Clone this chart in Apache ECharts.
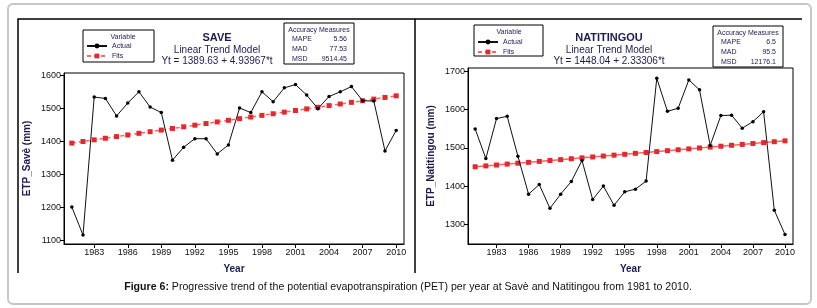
<!DOCTYPE html>
<html>
<head>
<meta charset="utf-8">
<script src="https://cdn.jsdelivr.net/npm/echarts@6/dist/echarts.min.js"></script>
<style>
  html, body { margin: 0; padding: 0; background: #fff; }
  #chart { width: 817px; height: 308px; }
</style>
</head>
<body>
<div id="chart"></div>
<script>
const years = [1981, 1982, 1983, 1984, 1985, 1986, 1987, 1988, 1989, 1990,
  1991, 1992, 1993, 1994, 1995, 1996, 1997, 1998, 1999, 2000,
  2001, 2002, 2003, 2004, 2005, 2006, 2007, 2008, 2009, 2010]
const yearTicks = [1983, 1986, 1989, 1992, 1995, 1998, 2001, 2004, 2007, 2010]

const saveActual = [1201, 1116, 1534, 1530, 1477, 1516, 1550, 1504, 1487, 1343,
  1382, 1408, 1408, 1362, 1389, 1501, 1487, 1550, 1520, 1562,
  1572, 1540, 1499, 1536, 1550, 1566, 1523, 1522, 1371, 1433]
const saveFits = [1394.6, 1399.5, 1404.5, 1409.4, 1414.3, 1419.3, 1424.2, 1429.2, 1434.1, 1439.0,
  1444.0, 1448.9, 1453.9, 1458.8, 1463.7, 1468.7, 1473.6, 1478.6, 1483.5, 1488.4,
  1493.4, 1498.3, 1503.2, 1508.2, 1513.1, 1518.1, 1523.0, 1527.9, 1532.9, 1537.8]
const saveTicks = [1100, 1200, 1300, 1400, 1500, 1600]

const natiActual = [1549, 1472, 1576, 1582, 1478, 1379, 1404, 1342, 1379, 1412,
  1467, 1365, 1400, 1350, 1385, 1392, 1413, 1681, 1595, 1603,
  1677, 1651, 1506, 1584, 1585, 1551, 1568, 1594, 1337, 1274]
const natiFits = [1450.4, 1452.7, 1455.0, 1457.4, 1459.7, 1462.0, 1464.4, 1466.7, 1469.0, 1471.4,
  1473.7, 1476.0, 1478.4, 1480.7, 1483.0, 1485.4, 1487.7, 1490.0, 1492.4, 1494.7,
  1497.0, 1499.4, 1501.7, 1504.0, 1506.4, 1508.7, 1511.0, 1513.4, 1515.7, 1518.0]
const natiTicks = [1300, 1400, 1500, 1600, 1700]

const font = "'Liberation Sans', Arial, sans-serif"
const navy = "#1b1b52"
const red = "#e8262b"

const pairs = (vals) => years.map((y, i) => [y, vals[i]])
const plain = (v) => String(v)

const chart = echarts.init(document.getElementById("chart"), null, { renderer: "canvas" })

const xAxisBase = (gridIndex, min, max) => ({
  type: "value",
  gridIndex,
  min,
  max,
  name: "Year",
  nameLocation: "middle",
  nameGap: 20,
  nameTextStyle: { fontFamily: font, fontSize: 10, fontWeight: "bold", color: navy },
  axisLine: { show: true, onZero: false, lineStyle: { color: "#000", width: 1 } },
  axisTick: { show: true, length: 4, customValues: yearTicks, lineStyle: { color: "#000" } },
  axisLabel: { customValues: yearTicks, formatter: plain, fontFamily: font, fontSize: 9, color: "#111", margin: 4 },
  splitLine: { show: false },
})

const yAxisBase = (gridIndex, min, max, ticks, name) => ({
  type: "value",
  gridIndex,
  min,
  max,
  name,
  nameLocation: "middle",
  nameGap: 32,
  nameTextStyle: { fontFamily: font, fontSize: 10, fontWeight: "bold", color: navy },
  axisLine: { show: true, lineStyle: { color: "#000", width: 1 } },
  axisTick: { show: true, length: 4, customValues: ticks, lineStyle: { color: "#000" } },
  axisLabel: { customValues: ticks, formatter: plain, fontFamily: font, fontSize: 9, color: "#111", margin: 3 },
  splitLine: { show: false },
})

const txt = (x, y, text, opts = {}) => ({
  type: "text",
  x,
  y,
  silent: true,
  style: Object.assign({
    text,
    fontFamily: font,
    fontSize: 7,
    fill: navy,
    align: "left",
    verticalAlign: "middle",
  }, opts),
})

const box = (x, y, w, h) => ({
  type: "rect",
  silent: true,
  shape: { x, y, width: w, height: h },
  style: { fill: "none", stroke: "#000", lineWidth: 1 },
})

const accuracy = (x0, x1, yTop, vals) => [
  txt((x0 + x1) / 2, yTop, "Accuracy Measures", { align: "center" }),
  txt(x0 + 8, yTop + 9, "MAPE"), txt(x1 - 7, yTop + 9, vals[0], { align: "right" }),
  txt(x0 + 8, yTop + 19, "MAD"), txt(x1 - 7, yTop + 19, vals[1], { align: "right" }),
  txt(x0 + 8, yTop + 29, "MSD"), txt(x1 - 7, yTop + 29, vals[2], { align: "right" }),
]

const legendBase = (left, top) => ({
  data: ["Actual", "Fits"],
  orient: "vertical",
  left,
  top,
  padding: 0,
  itemGap: 2,
  itemWidth: 20,
  itemHeight: 6,
  selectedMode: false,
  textStyle: { fontFamily: font, fontSize: 7, color: navy, lineHeight: 8 },
})

const option = {
  animation: false,
  backgroundColor: "#fff",
  grid: [
    { left: 64, top: 73, width: 340, height: 171, show: true, borderColor: "#000", borderWidth: 1, containLabel: false },
    { left: 468, top: 68, width: 325, height: 176, show: true, borderColor: "#000", borderWidth: 1, containLabel: false },
  ],
  xAxis: [
    xAxisBase(0, 1980.3, 2010.7),
    xAxisBase(1, 1980.33, 2010.75),
  ],
  yAxis: [
    yAxisBase(0, 1089, 1607, saveTicks, "ETP_Savè (mm)"),
    yAxisBase(1, 1249, 1708, natiTicks, "ETP_Natitingou (mm)"),
  ],
  legend: [legendBase(86, 42), legendBase(477, 38)],
  series: [
    {
      name: "Fits", type: "line", xAxisIndex: 0, yAxisIndex: 0,
      data: pairs(saveFits), symbol: "rect", symbolSize: 5,
      itemStyle: { color: red },
      lineStyle: { color: "#f06a6a", width: 1.5, type: [4, 3] },
      z: 2,
    },
    {
      name: "Actual", type: "line", xAxisIndex: 0, yAxisIndex: 0,
      data: pairs(saveActual), symbol: "circle", symbolSize: 3.5,
      itemStyle: { color: "#000" },
      lineStyle: { color: "#111", width: 1 },
      z: 3,
    },
    {
      name: "Fits", type: "line", xAxisIndex: 1, yAxisIndex: 1,
      data: pairs(natiFits), symbol: "rect", symbolSize: 5,
      itemStyle: { color: red },
      lineStyle: { color: "#f06a6a", width: 1.5 },
      z: 2,
    },
    {
      name: "Actual", type: "line", xAxisIndex: 1, yAxisIndex: 1,
      data: pairs(natiActual), symbol: "circle", symbolSize: 3.5,
      itemStyle: { color: "#000" },
      lineStyle: { color: "#111", width: 1 },
      z: 3,
    },
  ],
  graphic: [
    // outer frame and panel edges
    { type: "rect", silent: true, shape: { x: 8, y: 4, width: 803, height: 300, r: 5 },
      style: { fill: "none", stroke: "#c6c6c6", lineWidth: 2 } },
    { type: "polyline", silent: true, shape: { points: [[18, 273], [18, 19], [802, 19]] },
      style: { stroke: "#000", lineWidth: 1.5, fill: "none" } },
    { type: "line", silent: true, shape: { x1: 415, y1: 19, x2: 415, y2: 273 },
      style: { stroke: "#000", lineWidth: 1.5 } },

    // SAVE panel headings
    txt(217, 38, "SAVE", { align: "center", fontSize: 11, fontWeight: "bold" }),
    txt(217, 50, "Linear Trend Model", { align: "center", fontSize: 10 }),
    txt(217, 61, "Yt = 1389.63 + 4.93967*t", { align: "center", fontSize: 10 }),
    box(83, 30, 71, 32),
    txt(123, 37, "Variable", { align: "center" }),
    box(284, 23, 70, 41),
    ...accuracy(284, 354, 30, ["5.56", "77.53", "9514.45"]),

    // NATITINGOU panel headings
    txt(609, 38, "NATITINGOU", { align: "center", fontSize: 11, fontWeight: "bold" }),
    txt(609, 50, "Linear Trend Model", { align: "center", fontSize: 10 }),
    txt(609, 61, "Yt = 1448.04 + 2.33306*t", { align: "center", fontSize: 10 }),
    box(474, 25, 69, 31),
    txt(509, 32, "Variable", { align: "center" }),
    box(713, 26, 70, 41),
    ...accuracy(713, 783, 33, ["6.5", "95.5", "12176.1"]),

    // caption
    {
      type: "text", x: 408, y: 287, silent: true,
      style: {
        text: "{b|Figure 6:} Progressive trend of the potential evapotranspiration (PET) per year at Savè and Natitingou from 1981 to 2010.",
        align: "center", verticalAlign: "middle",
        fontFamily: font, fontSize: 10.6, fill: "#111",
        rich: { b: { fontFamily: font, fontSize: 10.6, fontWeight: "bold", fill: "#111" } },
      },
    },
  ],
}

chart.setOption(option)
</script>
</body>
</html>
